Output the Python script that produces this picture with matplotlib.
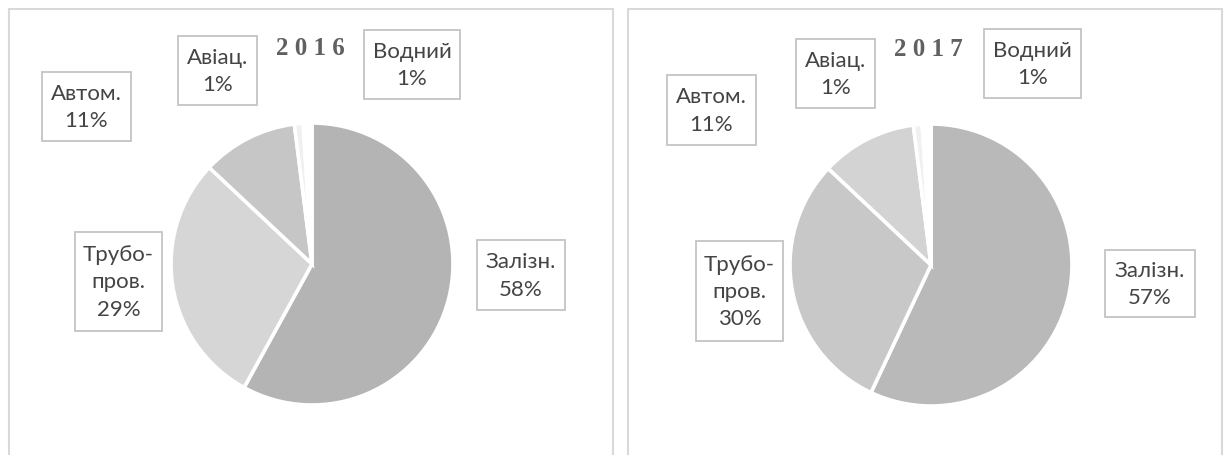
import matplotlib
matplotlib.use("Agg")
import matplotlib.pyplot as plt
from matplotlib.patches import Rectangle

# ---- data ----
categories = ["Залізн.", "Трубо-\nпров.", "Автом.", "Авіац.", "Водний"]
years = ["2016", "2017"]
values_2016 = [58, 29, 11, 1, 1]
values_2017 = [57, 30, 11, 1, 1]
colors_2016 = ["#b4b4b4", "#d6d6d6", "#c6c6c6", "#f0f0f0", "#ffffff"]
colors_2017 = ["#b9b9b9", "#c8c8c8", "#d3d3d3", "#f0f0f0", "#ffffff"]

W, H = 1231, 456
fig = plt.figure(figsize=(W / 100, H / 100), dpi=100)
ax = fig.add_axes([0, 0, 1, 1])

def Y(y):
    return H - y

# panel frames
for x0, x1 in [(8.5, 613), (628, 1222)]:
    ax.add_patch(Rectangle((x0, -10), x1 - x0, Y(10) + 10, fill=False,
                           edgecolor="#d9d9d9", linewidth=1.5, zorder=1))

panels = [
    dict(vals=values_2016, cols=colors_2016, year=years[0], center=(312, Y(265)),
         title=(310, 48),
         boxes=[(477, 565, 241, 311), (75, 162, 233, 332), (42, 131, 73, 142),
                (178, 257, 37, 106), (364, 460, 31, 100)]),
    dict(vals=values_2017, cols=colors_2017, year=years[1], center=(931, Y(266)),
         title=(928, 49),
         boxes=[(1105, 1195, 251, 318), (696, 783, 242, 342), (667, 756, 76, 146),
                (796, 875, 40, 109), (984, 1081, 30, 99)]),
]

for p in panels:
    ax.pie(p["vals"], colors=p["cols"], center=p["center"], radius=141,
           startangle=90, counterclock=False, frame=True,
           wedgeprops=dict(edgecolor="white", linewidth=2.6))
    tx, ty = p["title"]
    ax.text(tx, Y(ty), " ".join(p["year"]), ha="center", va="center",
            fontsize=18, fontweight="bold", family="Liberation Serif",
            color="#606060")
    for cat, v, (x0, x1, y0, y1) in zip(categories, p["vals"], p["boxes"]):
        ax.add_patch(Rectangle((x0, Y(y1)), x1 - x0, y1 - y0, facecolor="white",
                               edgecolor="#c4c4c4", linewidth=1.3, zorder=3))
        ax.text((x0 + x1) / 2, Y((y0 + y1) / 2), f"{cat}\n{v}%", ha="center",
                va="center", fontsize=16, family="Lato", color="#444444",
                linespacing=1.45, zorder=4)

ax.set_xlim(0, W)
ax.set_ylim(0, H)
ax.set_aspect("auto")
ax.axis("off")
fig.savefig("out.png", dpi=100, facecolor="white")
